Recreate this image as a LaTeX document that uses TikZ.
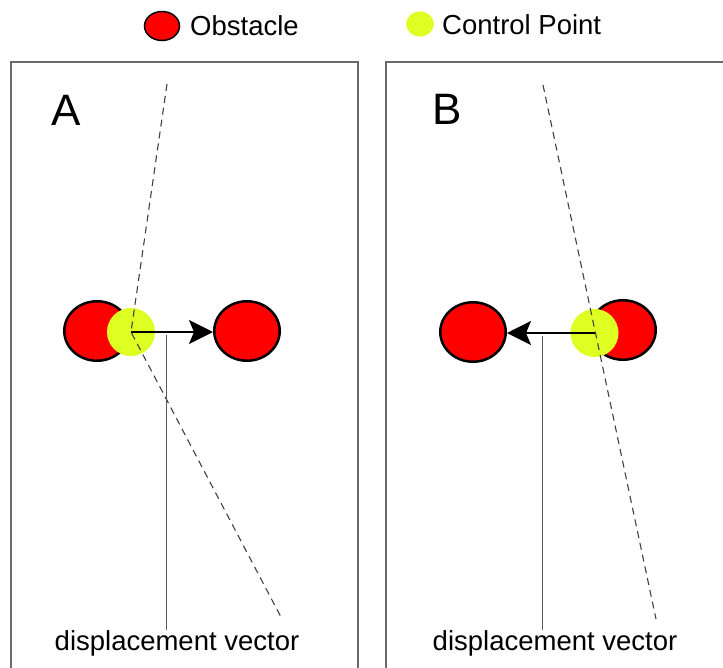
\documentclass[tikz,border=0pt]{standalone}
\usepackage{fontspec}
\setmainfont{Liberation Sans}
\usetikzlibrary{shapes.geometric,arrows.meta}
\definecolor{obsred}{RGB}{255,0,0}
\definecolor{ctrlyellow}{RGB}{221,255,34}
\definecolor{framegray}{RGB}{105,105,105}
\begin{document}
\begin{tikzpicture}[x=1pt,y=-1pt,
  frame/.style={draw=framegray,line width=1.4pt},
  obstacle/.style={ellipse,draw,fill=obsred,line width=2.5pt,minimum width=65.5pt,minimum height=59.5pt,inner sep=0pt},
  ctrlpt/.style={circle,fill=ctrlyellow,minimum size=48pt,inner sep=0pt},
  guide/.style={draw=black!75,line width=1.1pt,dash pattern=on 7pt off 5pt},
  vec/.style={line width=2pt,-{Stealth[length=24pt,width=24pt,inset=5pt]}},
  tick/.style={draw=black!65,line width=1.2pt},
  caption/.style={inner sep=0pt,anchor=base,font=\fontsize{27.5}{32}\selectfont},
  panel/.style={inner sep=0pt,anchor=base west,font=\fontsize{44}{48}\selectfont}]
\useasboundingbox (0,0) rectangle (723,667);
\clip (0,0) rectangle (723,667);

% legend
\node (keyobs) [ellipse,draw,fill=obsred,line width=1.5pt,minimum width=35pt,minimum height=29pt,inner sep=0pt] at (162,26) {};
\node (keyobstxt) [inner sep=0pt,anchor=base west,font=\fontsize{27.5}{32}\selectfont] at (190,35) {Obstacle};
\node (keyctrl) [ellipse,fill=ctrlyellow,minimum width=28pt,minimum height=25pt,inner sep=0pt] at (420,24) {};
\node (keyctrltxt) [inner sep=0pt,anchor=base west,font=\fontsize{27.5}{32}\selectfont] at (442,34) {Control Point};

% panel A
\draw[frame] (11,62) rectangle (358,720);
\node (nameA) [panel] at (51,125) {A};
\node (obsA1) [obstacle] at (97,331) {};
\node (obsA2) [obstacle] at (247,331) {};
\node (ctrlA) [ctrlpt] at (131,332) {};
\coordinate (topA) at (167,84);
\coordinate (botA) at (282,619);
\draw[guide] (topA) -- (ctrlA.center) -- (botA);
\draw[vec] (ctrlA.center) -- (ctrlA.center -| obsA2.west);
\node (labA) [caption] at (177,650) {displacement vector};
\coordinate (vecA) at (166.7,335);
\draw[tick] (vecA) -- (vecA |- labA.north);

% panel B
\draw[frame] (386,62) rectangle (760,720);
\node (nameB) [panel] at (432,124) {B};
\node (obsB1) [obstacle] at (473,332) {};
\node (obsB2) [obstacle] at (623,330) {};
\node (ctrlB) [ctrlpt] at (594.5,333) {};
\coordinate (topB) at (543,85);
\coordinate (botB) at (656,619);
\draw[guide] (topB) -- (botB);
\draw[vec] (ctrlB.center) -- (ctrlB.center -| obsB1.east);
\node (labB) [caption] at (555,650) {displacement vector};
\coordinate (vecB) at (542.7,336);
\draw[tick] (vecB) -- (vecB |- labB.north);
\end{tikzpicture}
\end{document}
